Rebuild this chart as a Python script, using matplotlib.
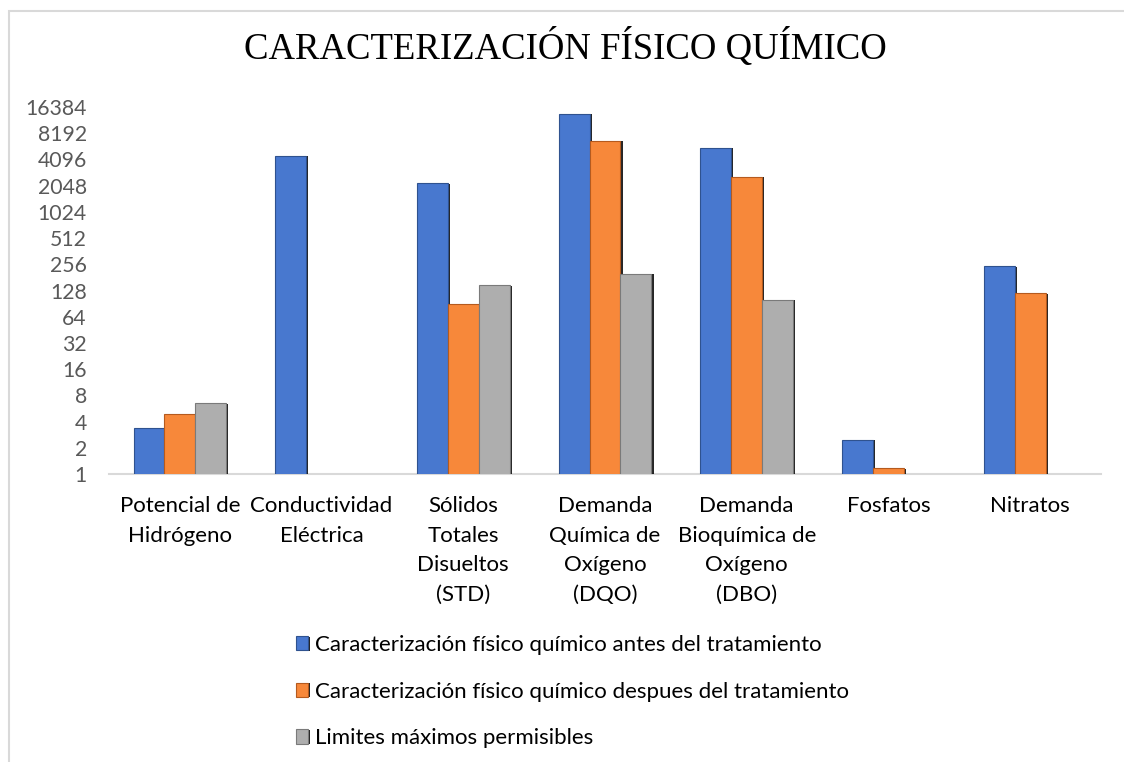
import numpy as np
import matplotlib
matplotlib.use("Agg")
import matplotlib.pyplot as plt
from matplotlib.patches import Rectangle
from matplotlib.ticker import FixedLocator, FixedFormatter, NullLocator
import matplotlib.patheffects as pe

# data
categories = ["Potencial de\nHidrógeno", "Conductividad\nEléctrica",
              "Sólidos\nTotales\nDisueltos\n(STD)", "Demanda\nQuímica de\nOxígeno\n(DQO)",
              "Demanda\nBioquímica de\nOxígeno\n(DBO)", "Fosfatos", "Nitratos"]
antes = [3.4, 4500, 2200, 13700, 5570, 2.46, 245]
despues = [4.9, np.nan, 90, 6700, 2590, 1.17, 120]
limites = [6.5, np.nan, 148, 200, 100, np.nan, np.nan]
series_names = ["Caracterización físico químico antes del tratamiento",
                "Caracterización físico químico despues del tratamiento",
                "Limites máximos permisibles"]
y_ticks = [2 ** k for k in range(15)]

colors = ["#4878CF", "#F7883A", "#AEAEAE"]
edges = ["#2F528F", "#B55A1E", "#7A7A7A"]

plt.rcParams['font.family'] = ['Lato', 'DejaVu Sans']

fig = plt.figure(figsize=(11.24, 7.62), dpi=100)
ax = fig.add_axes([0.097, 0.378, 0.8825, 0.4815])

# chart frame (light grey border like the source)
fig.patches.append(Rectangle((8.5 / 1124, -0.1), 1.2, 1.1 - 10.5 / 762,
                             transform=fig.transFigure, fill=False,
                             edgecolor="#D9D9D9", linewidth=1.5))

x = np.arange(len(categories))
w = 0.218
shadow = [pe.SimplePatchShadow(offset=(1.6, -0.4), shadow_rgbFace="black", alpha=0.85), pe.Normal()]
for i, vals in enumerate([antes, despues, limites]):
    bars = ax.bar(x + (i - 1) * w, vals, width=w, color=colors[i], edgecolor=edges[i],
                  linewidth=0.8, label=series_names[i], zorder=3)
    for b in bars:
        b.set_path_effects(shadow)

ax.set_yscale("log", base=2)
ax.set_ylim(1, 16384)
ax.yaxis.set_major_locator(FixedLocator(y_ticks))
ax.yaxis.set_major_formatter(FixedFormatter([str(t) for t in y_ticks]))
ax.yaxis.set_minor_locator(NullLocator())
ax.set_xlim(-0.5, len(categories) - 0.5)
ax.set_xticks(x)
ax.set_xticklabels(categories, fontsize=16, color="black", linespacing=1.6)
ax.tick_params(axis="y", length=0, pad=16, labelsize=15.3, labelcolor="#595959")
ax.tick_params(axis="x", length=0, pad=16)

for s in ["top", "right", "left"]:
    ax.spines[s].set_visible(False)
ax.spines["bottom"].set_color("#D9D9D9")
ax.spines["bottom"].set_linewidth(1.5)

fig.text(0.503, 0.938, "CARACTERIZACIÓN FÍSICO QUÍMICO", ha="center", va="center",
         fontsize=26.5, family=["Liberation Serif", "DejaVu Serif"], color="black")

fig.legend(loc="upper left", bbox_to_anchor=(296 / 1124, 1 - 635 / 762), frameon=False,
           fontsize=16, handlelength=0.55, handleheight=0.6, handletextpad=0.3,
           labelspacing=1.2, borderaxespad=0, borderpad=0)

fig.savefig("out.png", dpi=100)
